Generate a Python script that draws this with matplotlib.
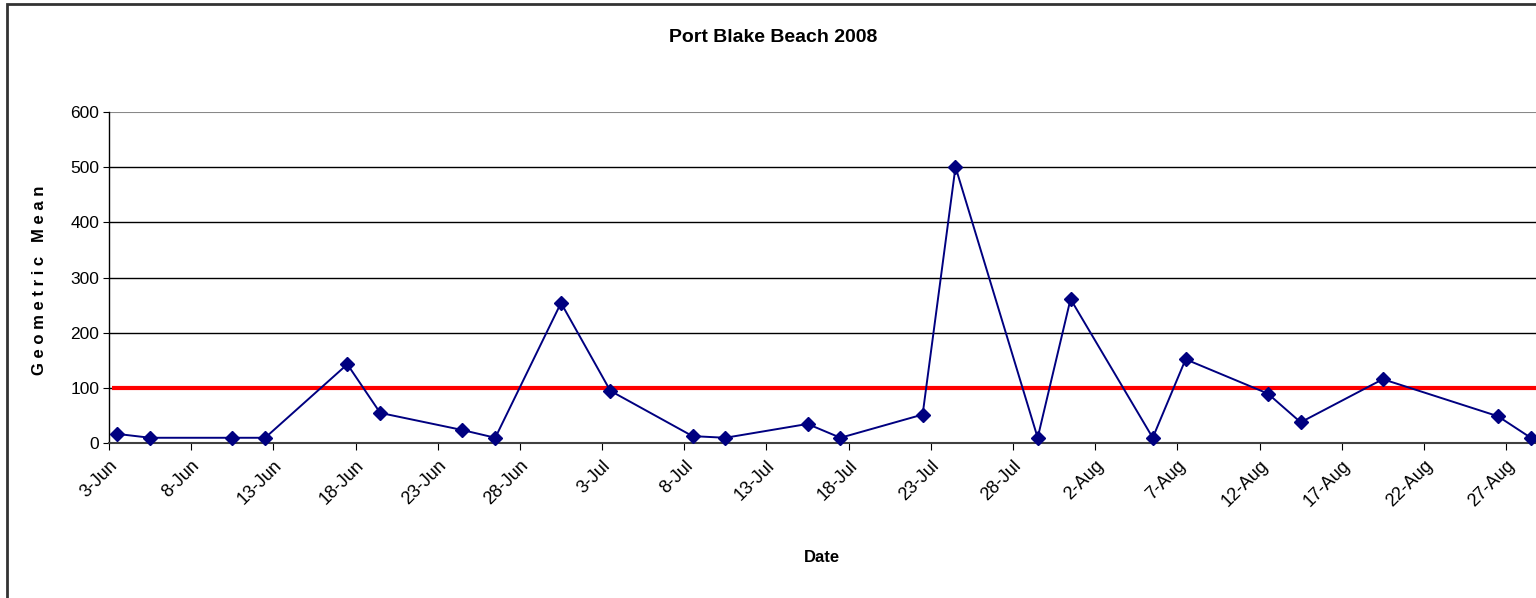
import matplotlib.pyplot as plt
from matplotlib.patches import Rectangle
import pandas as pd

# sample dates (2008) and geometric mean values
dates = ['06-03', '06-05', '06-10', '06-12', '06-17', '06-19', '06-24', '06-26',
         '06-30', '07-03', '07-08', '07-10', '07-15', '07-17', '07-22', '07-24',
         '07-29', '07-31', '08-05', '08-07', '08-12', '08-14', '08-19', '08-26',
         '08-28']
values = [17, 10, 10, 10, 143, 55, 24, 10,
          254, 95, 13, 10, 35, 10, 52, 500,
          10, 261, 10, 152, 90, 38, 116, 49,
          10]
limit = 100
yticks = [0, 100, 200, 300, 400, 500, 600]

x = pd.to_datetime(['2008-' + d for d in dates]) + pd.Timedelta(hours=12)
start = pd.Timestamp('2008-06-03')
end = pd.Timestamp('2008-08-29')
tick_dates = pd.date_range(start, '2008-08-27', freq='5D')

plt.rcParams['font.family'] = ['Liberation Sans', 'DejaVu Sans']

fig = plt.figure(figsize=(15.36, 5.98), dpi=100)
ax = fig.add_axes([109 / 1536, 1 - 443.3 / 598, (1539 - 109) / 1536, (443.3 - 111.7) / 598])

# outer chart border
fig.patches.append(Rectangle((7 / 1536, -0.05), 1.2, 1 - 4 / 598 + 0.05,
                             transform=fig.transFigure, fill=False,
                             edgecolor='#333333', linewidth=2))

ax.set_ylim(0, 600)
ax.set_xlim(start, end)
ax.set_yticks(yticks)
ax.set_xticks(tick_dates)
ax.set_xticklabels([f"{d.day}-{d.strftime('%b')}" for d in tick_dates])

for yv in yticks[1:-1]:
    ax.axhline(yv, color='black', linewidth=1, zorder=1)
ax.axhline(600, color='#888888', linewidth=1.5, zorder=1)

ax.hlines(limit, start + pd.Timedelta(hours=5), end, color='red', linewidth=3, zorder=2)
ax.plot(x, values, color='#000080', linewidth=1.4, marker='D', markersize=7.5,
        markeredgecolor='#000080', markerfacecolor='#000080', zorder=3, clip_on=False)

for s in ['top', 'right']:
    ax.spines[s].set_visible(False)
ax.spines['left'].set_color('black')
ax.spines['left'].set_linewidth(1)
ax.spines['bottom'].set_color('#404040')
ax.spines['bottom'].set_linewidth(1.5)

ax.tick_params(axis='y', direction='out', length=4, labelsize=12.5, pad=3)
ax.tick_params(axis='x', direction='out', length=5, labelsize=13, pad=5)
plt.setp(ax.get_xticklabels(), rotation=45, ha='right', rotation_mode='anchor')

fig.text(773 / 1536, 1 - 38 / 598, 'Port Blake Beach 2008', ha='center', va='center',
         fontsize=14, fontweight='bold')
fig.text(822 / 1536, 1 - 557 / 598, 'Date', ha='center', va='center',
         fontsize=12, fontweight='bold')
fig.text(40 / 1536, 1 - 280 / 598, 'G e o m e t r i c   M e a n', ha='center', va='center',
         rotation=90, fontsize=12, fontweight='bold')

fig.savefig('out.png', dpi=100)
